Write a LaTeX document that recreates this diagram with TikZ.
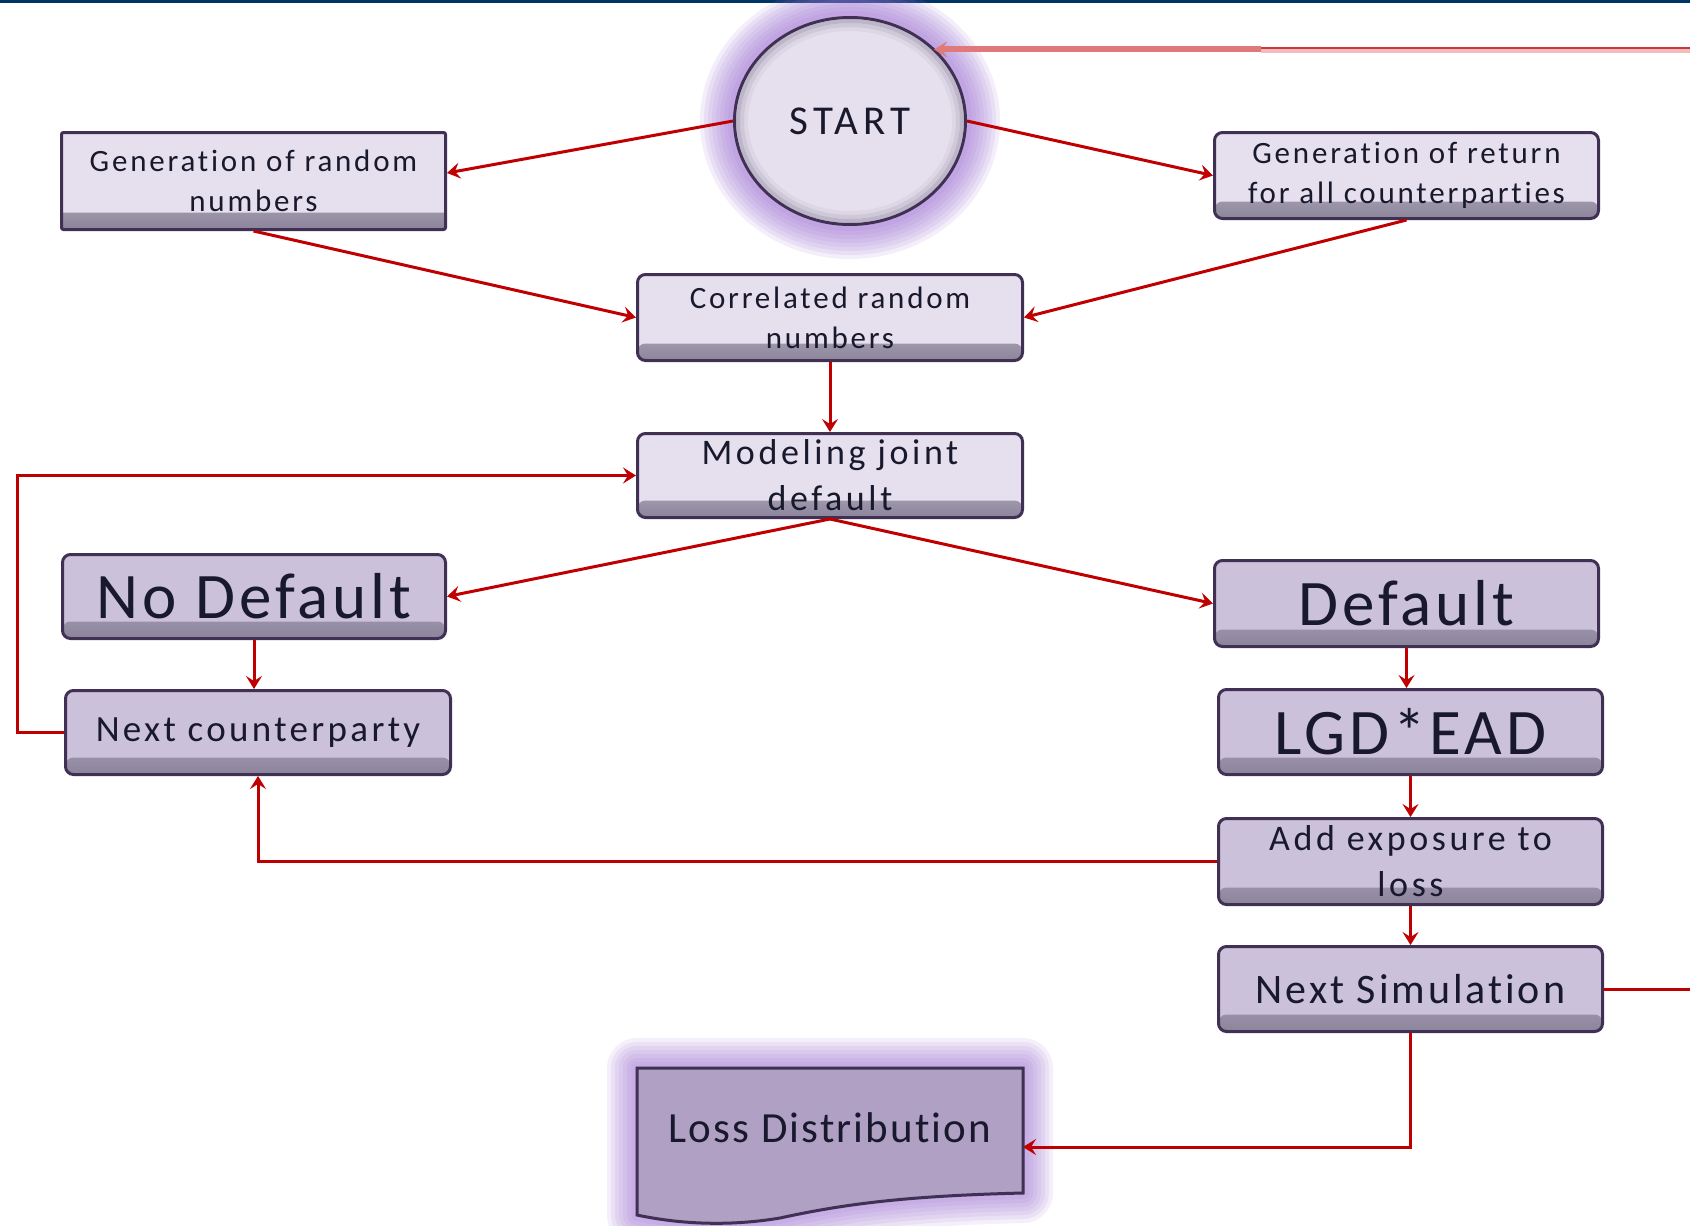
\documentclass[tikz,border=0pt]{standalone}
\usepackage{fontspec}
\setmainfont{Carlito}[Ligatures=NoCommon]
\usetikzlibrary{shapes.geometric,arrows.meta,calc}
\definecolor{boxlight}{RGB}{230,224,238}
\definecolor{boxdark}{RGB}{203,193,219}
\definecolor{lossfill}{RGB}{176,160,196}
\definecolor{bord}{RGB}{64,48,84}
\definecolor{redl}{RGB}{192,0,0}
\definecolor{redlight}{RGB}{224,122,122}
\definecolor{redpink}{RGB}{240,190,190}
\definecolor{reddark}{RGB}{205,55,55}
\definecolor{navy}{RGB}{0,51,102}
\definecolor{glowc}{RGB}{165,125,215}
\definecolor{txt}{RGB}{25,25,45}
\definecolor{bevel}{RGB}{140,132,154}
\begin{document}
\begin{tikzpicture}[x=1pt,y=-1pt,
  box/.style={draw=bord, line width=3pt, fill=#1, rounded corners=8pt, inner sep=0pt,
    align=center, text=txt,
    path picture={\shade[top color=#1, bottom color=bevel]
      ([yshift=17pt]path picture bounding box.south west) rectangle (path picture bounding box.south east);}},
  fS/.style={font=\fontsize{31}{40}\selectfont\addfontfeatures{LetterSpace=9}},
  fM/.style={font=\fontsize{36}{46}\selectfont\addfontfeatures{LetterSpace=10}},
  fN/.style={font=\fontsize{37}{44}\selectfont\addfontfeatures{LetterSpace=9}},
  fSim/.style={font=\fontsize{42}{48}\selectfont\addfontfeatures{LetterSpace=7}},
  fStart/.style={font=\fontsize{41}{48}\selectfont\addfontfeatures{LetterSpace=12}},
  fLoss/.style={font=\fontsize{43}{48}\selectfont\addfontfeatures{LetterSpace=5}},
  fXL/.style={font=\fontsize{65}{70}\selectfont\addfontfeatures{LetterSpace=6}},
  redline/.style={draw=redl, line width=3pt},
  arr/.style={redline, -{Stealth[length=13pt,width=16pt,inset=5pt]}},
]
\useasboundingbox (0,0) rectangle (1690,1226);
\fill[white] (0,0) rectangle (1690,1226);
\fill[navy] (0,0) rectangle (1690,3);

% glow around START
\foreach \w in {66,58,...,10}
  \draw[glowc, opacity=0.13, line width=\w pt] (850,121) ellipse [x radius=117, y radius=105];
% glow around Loss Distribution
\foreach \w in {60,52,...,4}
  \draw[glowc, opacity=0.12, line width=\w pt, line join=round]
    (637,1068) -- (1023,1068) -- (1023,1193) .. controls (900,1196) and (840,1205) .. (780,1218)
    .. controls (720,1228) and (670,1222) .. (637,1215) -- cycle;

% START
\node[ellipse, draw=bord, line width=3pt, fill=boxlight, minimum width=231, minimum height=207,
      inner sep=0pt, text=txt, fStart] (start) at (850,121) {START};
\foreach \r/\o in {0/0.45,4/0.25,8/0.1}
  \draw[bevel, opacity=\o, line width=4pt] (start.center) ellipse [x radius=112-\r, y radius=100-\r];

% boxes
\node[box=boxlight, rounded corners=2pt, fS, minimum width=384, minimum height=97] (genrand) at (253.5,181) {Generation of random\\numbers};
\node[box=boxlight, fS, minimum width=384, minimum height=86] (genret) at (1406.5,175.5) {Generation of return\\for all counterparties};
\node[box=boxlight, fS, minimum width=385, minimum height=86] (corr) at (830,317.5) {Correlated random\\numbers};
\node[box=boxlight, fM, minimum width=385, minimum height=84] (model) at (830,475.5) {Modeling joint\\default};
\node[box=boxdark, fXL, minimum width=383, minimum height=84] (nodef) at (254,596.5) {No Default};
\node[box=boxdark, fN, minimum width=385, minimum height=84] (nextcp) at (258,732.5) {Next counterparty};
\node[box=boxdark, fXL, minimum width=384, minimum height=86] (def) at (1406.5,603.5) {Default};
\node[box=boxdark, fXL, minimum width=384, minimum height=85] (lgd) at (1410.5,732) {LGD*EAD};
\node[box=boxdark, fM, minimum width=384, minimum height=86] (addexp) at (1410.5,861.5) {Add exposure to\\loss};
\node[box=boxdark, fSim, minimum width=384, minimum height=85] (nextsim) at (1410.5,989) {Next Simulation};

% Loss Distribution (document shape)
\filldraw[fill=lossfill, draw=bord, line width=3pt]
  (637,1068) -- (1023,1068) -- (1023,1193) .. controls (900,1196) and (840,1205) .. (780,1218)
  .. controls (720,1228) and (670,1222) .. (637,1215) -- cycle;
\node[fLoss, text=txt, inner sep=0pt] (loss) at (830,1128) {Loss Distribution};

% coordinates for free ends
\coordinate (edgeR) at (1690,0);
\coordinate (splitTop) at (1261,0);
\coordinate (loopX) at (17,0);
\coordinate (lossR) at (1023,1147);

% connectors
\draw[draw=redpink, line width=4pt] ([yshift=-3pt]edgeR |- start.41) -- ([yshift=-3pt]splitTop |- start.41);
\draw[draw=reddark, line width=2.7pt] (edgeR |- start.41) -- (splitTop |- start.41);
\draw[arr, draw=redlight, line width=6pt, -{Stealth[length=13pt,width=16pt,inset=5pt,line width=0pt]}] ([yshift=-1.5pt]splitTop |- start.41) -- ([yshift=-1.5pt]start.41);
\draw[arr] (start.west) -- ([yshift=8pt]genrand.east);
\draw[arr] (start.east) -- (genret.west);
\draw[arr] (genrand.south) -- (corr.west);
\draw[arr] (genret.south) -- (corr.east);
\draw[arr] (corr.south) -- (model.north);
\draw[arr] (model.south) -- (nodef.east);
\draw[arr] (model.south) -- (def.west);
\draw[arr] (nodef.south) -- (nodef.south |- nextcp.north);
\draw[arr] (def.south) -- (def.south |- lgd.north);
\draw[arr] (lgd.south) -- (addexp.north);
\draw[arr] (addexp.south) -- (nextsim.north);
\draw[arr] (addexp.west) -| (nextcp.south);
\draw[arr] (nextcp.west) -- (nextcp.west -| loopX) |- (model.west);
\draw[arr] (nextsim.south) |- (lossR);
\draw[redline] (nextsim.east) -- (nextsim.east -| edgeR);
\end{tikzpicture}
\end{document}
